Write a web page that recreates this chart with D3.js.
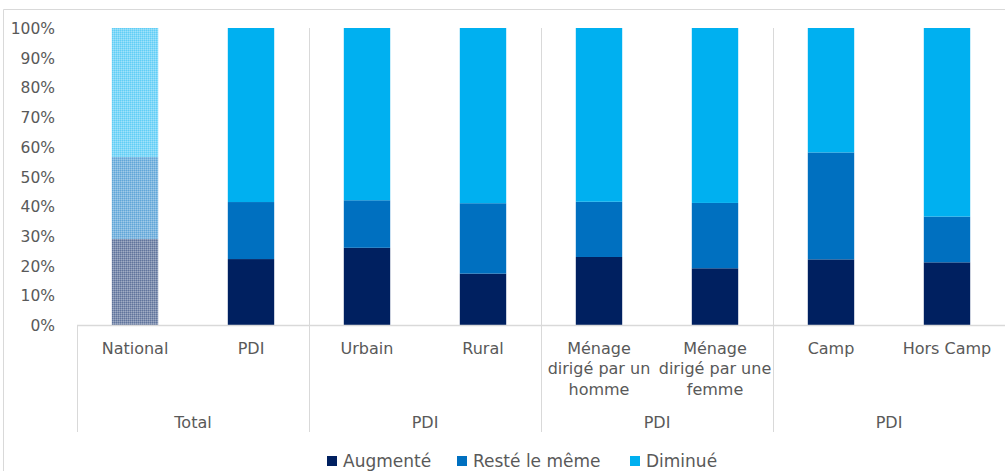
<!DOCTYPE html>
<html>
<head>
<meta charset="utf-8">
<script src="https://cdn.jsdelivr.net/npm/d3@7"></script>
<style>
  body { margin: 0; background: #fff; }
  text { font-family: "DejaVu Sans", sans-serif; fill: #595959; }
</style>
</head>
<body>
<div id="chart"></div>
<script>
    // -------------------------------
    // Data
    // -------------------------------
    const categories = ["National", "PDI", "Urbain", "Rural", "Homme", "Femme", "Camp", "Hors Camp"];
    const categoryLabels = [
      ["National"], ["PDI"], ["Urbain"], ["Rural"],
      ["Ménage", "dirigé par un", "homme"],
      ["Ménage", "dirigé par une", "femme"],
      ["Camp"], ["Hors Camp"]
    ];
    const groups = ["Total", "PDI", "PDI", "PDI"];
    const groupSize = 2;

    const seriesNames = ["Augmenté", "Resté le même", "Diminué"];
    const augmente = [29.0, 22.2, 26.0, 17.3, 22.9, 19.1, 22.1, 21.1];
    const reste    = [27.6, 19.2, 16.0, 23.7, 18.6, 22.0, 36.0, 15.4];
    const diminue  = [43.4, 58.6, 58.0, 59.0, 58.5, 58.9, 41.9, 63.5];
    const colors = ["#002060", "#0070C0", "#00B0F0"];
    const patterned = ["National"];   // shown with a dotted fill

    const yTicks = d3.range(0, 101, 10);

    // -------------------------------
    // Setup
    // -------------------------------
    const W = 1005, H = 471;
    const margin = { top: 28, right: 0, bottom: 146, left: 77 };

    const svg = d3.select("#chart").append("svg")
        .attr("width", W)
        .attr("height", H);

    // chart frame
    svg.append("path")
        .attr("d", `M3.5,${H} V9.5 H${W}`)
        .attr("fill", "none")
        .attr("stroke", "#d9d9d9");

    const x = d3.scaleBand()
        .domain(categories)
        .range([margin.left, W - margin.right])
        .paddingInner(0.6)
        .paddingOuter(0.3);

    const y = d3.scaleLinear()
        .domain([0, 100])
        .range([H - margin.bottom, margin.top]);

    // dotted patterns for the national bar: washed colour + fine dither
    const defs = svg.append("defs");
    colors.forEach((c, i) => {
      const p = defs.append("pattern")
          .attr("id", "pat" + i)
          .attr("patternUnits", "userSpaceOnUse")
          .attr("width", 2).attr("height", 2);
      p.append("rect").attr("width", 2).attr("height", 2)
          .attr("fill", d3.interpolateRgb(c, "#fff")(0.5));
      p.append("rect").attr("width", 1).attr("height", 1)
          .attr("fill", c).attr("opacity", 0.25);
      p.append("rect").attr("x", 1).attr("y", 1).attr("width", 1).attr("height", 1)
          .attr("fill", "#fff").attr("opacity", 0.25);
    });

    // -------------------------------
    // Stacked bars
    // -------------------------------
    const rows = categories.map((c, i) => ({
      cat: c, a: augmente[i], r: reste[i], d: diminue[i]
    }));
    const stacked = d3.stack().keys(["a", "r", "d"])(rows);

    stacked.forEach((layer, li) => {
      svg.append("g").selectAll("rect")
        .data(layer)
        .enter().append("rect")
          .attr("x", d => x(d.data.cat))
          .attr("width", x.bandwidth())
          .attr("y", d => y(d[1]))
          .attr("height", d => y(d[0]) - y(d[1]))
          .attr("fill", d => patterned.includes(d.data.cat) ? `url(#pat${li})` : colors[li]);
    });

    // -------------------------------
    // Y axis
    // -------------------------------
    const yAxis = svg.append("g")
        .attr("transform", `translate(${margin.left - 22},0)`)
        .call(d3.axisLeft(y).tickValues(yTicks).tickSize(0).tickPadding(0)
          .tickFormat(d => d + "%"));
    yAxis.select(".domain").remove();
    yAxis.selectAll("text")
        .style("font-size", "15.5px")
        .style("font-family", "'DejaVu Sans', sans-serif")
        .attr("fill", "#595959")
        .attr("dy", "0.36em");

    // -------------------------------
    // X axis: base line, separators, labels
    // -------------------------------
    const y0 = y(0);
    const sepBottom = 432;
    svg.append("line")
        .attr("x1", margin.left).attr("x2", W)
        .attr("y1", y0 + 0.5).attr("y2", y0 + 0.5)
        .attr("stroke", "#d9d9d9").attr("stroke-width", 1.5);

    const step = x.step();
    const groupEdges = d3.range(groups.length + 1).map(g => margin.left + g * groupSize * step);

    svg.append("g").selectAll("line")
      .data(groupEdges)
      .enter().append("line")
        .attr("x1", d => Math.round(d) + 0.5)
        .attr("x2", d => Math.round(d) + 0.5)
        .attr("y1", (d, i) => i === 0 ? y0 : margin.top)
        .attr("y2", sepBottom)
        .attr("stroke", "#d9d9d9");

    const catLabel = svg.append("g").selectAll("text")
      .data(categories)
      .enter().append("text")
        .attr("x", d => x(d) + x.bandwidth() / 2)
        .attr("y", 348)
        .attr("text-anchor", "middle")
        .style("font-size", "16px");
    catLabel.each(function(d, i) {
      d3.select(this).selectAll("tspan")
        .data(categoryLabels[i])
        .enter().append("tspan")
          .attr("x", x(d) + x.bandwidth() / 2)
          .attr("y", (t, j) => 348 + j * 20.7)
          .attr("dy", "0.36em")
          .text(t => t);
    });

    svg.append("g").selectAll("text")
      .data(groups)
      .enter().append("text")
        .attr("x", (d, i) => (groupEdges[i] + groupEdges[i + 1]) / 2)
        .attr("y", 422)
        .attr("dy", "0.36em")
        .attr("text-anchor", "middle")
        .style("font-size", "16px")
        .text(d => d);

    // -------------------------------
    // Legend
    // -------------------------------
    const legendX = [327, 457, 630];
    const legend = svg.append("g").selectAll("g")
      .data(seriesNames)
      .enter().append("g")
        .attr("transform", (d, i) => `translate(${legendX[i]},456)`);
    legend.append("rect")
        .attr("width", 10).attr("height", 10)
        .attr("fill", (d, i) => colors[i]);
    legend.append("text")
        .attr("x", 16).attr("y", 5)
        .attr("dy", "0.36em")
        .style("font-size", "17px")
        .text(d => d);
</script>
</body>
</html>
